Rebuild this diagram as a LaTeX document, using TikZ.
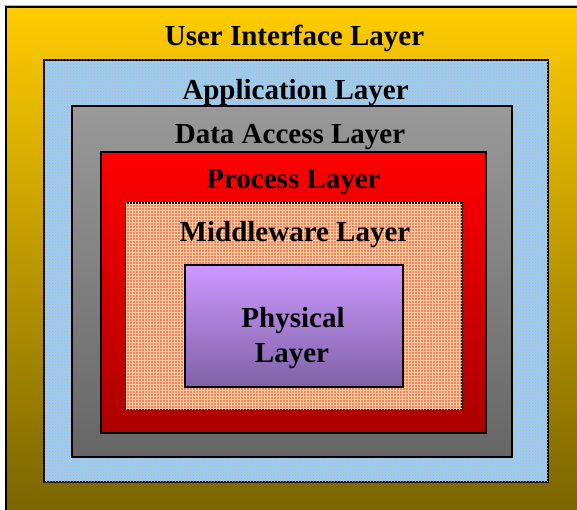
\documentclass[tikz,border=0pt]{standalone}
\usepackage{fontspec}
\setmainfont{Liberation Serif}
\usetikzlibrary{patterns}
\definecolor{olbot}{HTML}{736000}
\definecolor{oltop}{HTML}{FFCC00}
\definecolor{appblue}{HTML}{99CCFF}
\definecolor{appdot}{HTML}{C8B878}
\definecolor{graytop}{HTML}{999999}
\definecolor{graybot}{HTML}{666666}
\definecolor{redtop}{HTML}{FF0000}
\definecolor{redbot}{HTML}{AA0000}
\definecolor{salmon}{HTML}{EE8466}
\definecolor{salmongrid}{HTML}{FFCC99}
\definecolor{purtop}{HTML}{CC99FF}
\definecolor{purbot}{HTML}{7F62A6}
\tikzset{
  layerbox/.style={draw=black, line width=1.6pt, rectangle, inner sep=0pt},
  lbl/.style={font=\fontsize{29}{35}\selectfont\bfseries, anchor=base, inner sep=0pt, align=center},
}
\begin{document}
\begin{tikzpicture}[x=1pt,y=-1pt]
\useasboundingbox (0,0) rectangle (577,510);
\clip (0,0) rectangle (577,510);
\draw[gray!60, line width=0.8pt] (4,5.5) -- (577,5.5);
\node[layerbox, top color=oltop, bottom color=olbot, minimum width=620, minimum height=530] (ui) at (316,272) {};
\node[layerbox, fill=appblue, postaction={pattern=crosshatch dots, pattern color=appdot}, minimum width=504, minimum height=422] (app) at (296,271) {};
\node[layerbox, top color=graytop, bottom color=graybot, minimum width=440, minimum height=351] (data) at (292,281.5) {};
\node[layerbox, top color=redtop, bottom color=redbot, minimum width=385, minimum height=281] (proc) at (293.5,292.5) {};
\node[layerbox, fill=salmon, postaction={pattern=grid, pattern color=salmongrid}, minimum width=336, minimum height=206] (mid) at (294,306) {};
\node[layerbox, top color=purtop, bottom color=purbot, minimum width=218, minimum height=122] (phys) at (294,326) {};
\node[lbl] (tui) at (294.5,46) {User Interface Layer};
\node[lbl] (tapp) at (295.5,100) {Application Layer};
\node[lbl] (tdata) at (290,144) {Data Access Layer};
\node[lbl] (tproc) at (293.5,189) {Process Layer};
\node[lbl] (tmid) at (295,241) {Middleware Layer};
\node[lbl] (tphys) at (293,327) {Physical};
\node[lbl] (tphys2) at (292,362) {Layer};
\end{tikzpicture}
\end{document}
